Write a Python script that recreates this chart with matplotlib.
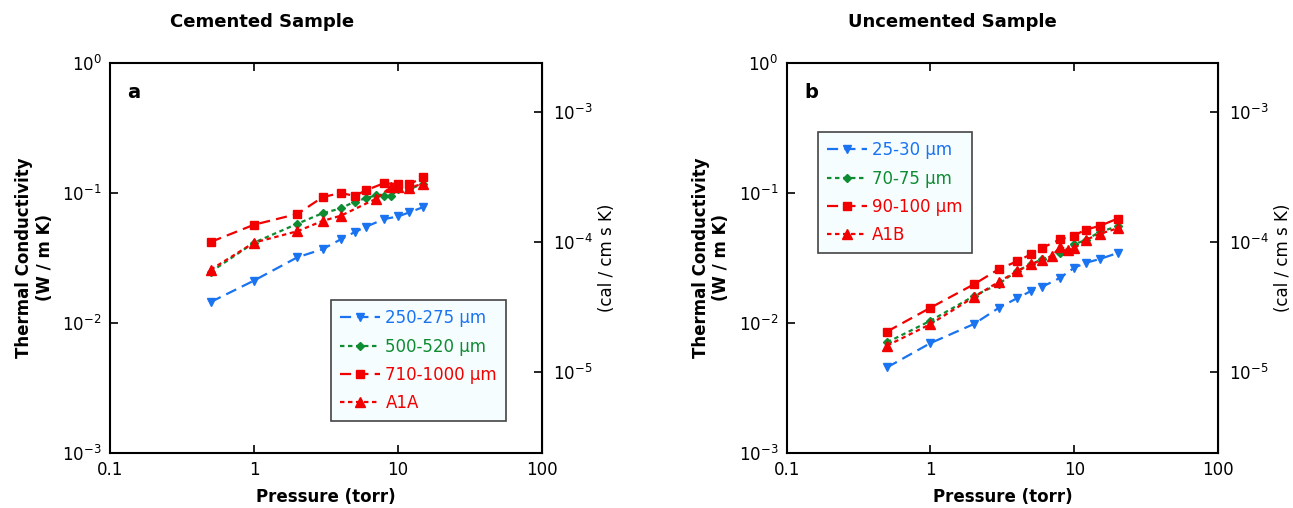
import numpy as np
import matplotlib
matplotlib.use("Agg")
import matplotlib.pyplot as plt
from matplotlib.ticker import LogLocator, NullLocator, FixedLocator

# Panel a - cemented sample
p_a = [0.5, 1, 2, 3, 4, 5, 6, 8, 10, 12, 15]
k_a_250 = [0.0145, 0.0212, 0.032, 0.037, 0.044, 0.050, 0.055, 0.063, 0.066, 0.071, 0.078]
k_a_710 = [0.042, 0.057, 0.069, 0.093, 0.100, 0.095, 0.105, 0.119, 0.117, 0.117, 0.132]
p_a_500 = [0.5, 1, 2, 3, 4, 5, 6, 7, 8, 9, 10, 12, 15]
k_a_500 = [0.0247, 0.0415, 0.058, 0.070, 0.076, 0.086, 0.091, 0.096, 0.095, 0.095, 0.108, 0.107, 0.118]
p_a_a1a = [0.5, 1, 2, 3, 4, 7, 9, 10, 12, 15]
k_a_a1a = [0.0257, 0.0415, 0.0508, 0.061, 0.0668, 0.090, 0.112, 0.112, 0.110, 0.118]

# Panel b - uncemented sample
p_b = [0.5, 1, 2, 3, 4, 5, 6, 8, 10, 12, 15, 20]
k_b_25 = [0.00456, 0.0070, 0.0098, 0.0131, 0.0155, 0.0176, 0.019, 0.0223, 0.0266, 0.029, 0.031, 0.0345]
k_b_70 = [0.0071, 0.0104, 0.0161, 0.020, 0.0252, 0.0283, 0.031, 0.0344, 0.0403, 0.0435, 0.050, 0.0555]
k_b_90 = [0.0086, 0.0131, 0.0198, 0.026, 0.0298, 0.0338, 0.0379, 0.044, 0.047, 0.0523, 0.0557, 0.0635]
p_b_a1b = [0.5, 1, 2, 3, 4, 5, 6, 7, 8, 9, 10, 12, 15, 20]
k_b_a1b = [0.0067, 0.0098, 0.0158, 0.0208, 0.025, 0.0283, 0.0305, 0.0328, 0.0386, 0.0364, 0.0375, 0.0435, 0.0484, 0.0535]

labels_a = ["250-275 µm", "500-520 µm", "710-1000 µm", "A1A"]
labels_b = ["25-30 µm", "70-75 µm", "90-100 µm", "A1B"]

BLUE = "#1a73f0"
GREEN = "#0e8c32"
RED = "#f20000"
LONG = (5, 2.8)
SHORT = (2, 1.6)

W_PER_CAL = 418.4  # W/m K per cal/cm s K

fig = plt.figure(figsize=(12.93, 5.08), dpi=100)
plt.rcParams['font.family'] = ['DejaVu Sans']


def draw_panel(ax, series, letter, leg_anchor):
    styles = [(BLUE, "v", 6, LONG), (GREEN, "D", 4, SHORT), (RED, "s", 6, LONG), (RED, "^", 6.5, SHORT)]
    for (x, y, lab), (c, m, ms, d) in zip(series, styles):
        ax.plot(x, y, color=c, marker=m, markersize=ms, lw=1.6, dashes=d, label=lab)
    ax.set_xscale("log")
    ax.set_yscale("log")
    ax.set_xlim(0.1, 100)
    ax.set_ylim(1e-3, 1)
    ax.xaxis.set_major_locator(FixedLocator([0.1, 1, 10, 100]))
    ax.xaxis.set_minor_locator(NullLocator())
    ax.yaxis.set_major_locator(LogLocator(base=10, numticks=10))
    ax.yaxis.set_minor_locator(NullLocator())
    ax.set_xticklabels(["0.1", "1", "10", "100"])
    ax.tick_params(direction="in", length=6, width=1.2, labelsize=12, top=True, pad=6)
    for s in ax.spines.values():
        s.set_linewidth(1.5)
    ax.set_xlabel("Pressure (torr)", fontsize=12, fontweight="bold", labelpad=6)
    ax.set_ylabel("Thermal Conductivity\n(W / m K)", fontsize=12, fontweight="bold", labelpad=6)
    ax.text(0.04, 0.925, letter, transform=ax.transAxes, fontsize=14, fontweight="bold", va="center")

    sec = ax.secondary_yaxis("right", functions=(lambda v: v / W_PER_CAL, lambda v: v * W_PER_CAL))
    sec.set_yscale("log")
    sec.yaxis.set_major_locator(FixedLocator([1e-5, 1e-4, 1e-3]))
    sec.yaxis.set_minor_locator(NullLocator())
    sec.tick_params(direction="in", length=6, width=1.2, labelsize=12, pad=8)
    sec.set_ylabel("(cal / cm s K)", fontsize=12, labelpad=4)

    leg = ax.legend(loc="upper left", bbox_to_anchor=leg_anchor, borderaxespad=0, fontsize=12, frameon=True,
                    fancybox=False, framealpha=1, edgecolor="#444444", facecolor="#f6fdff",
                    handlelength=2.4, handletextpad=0.3, labelspacing=0.62, borderpad=0.55)
    leg.get_frame().set_linewidth(1.2)
    for t, c in zip(leg.get_texts(), [BLUE, GREEN, RED, RED]):
        t.set_color(c)


ax_a = fig.add_axes([0.0851, 0.1083, 0.3341, 0.7677])
draw_panel(ax_a, [(p_a, k_a_250, labels_a[0]), (p_a_500, k_a_500, labels_a[1]),
                  (p_a, k_a_710, labels_a[2]), (p_a_a1a, k_a_a1a, labels_a[3])],
           "a", (0.512, 0.392))

ax_b = fig.add_axes([0.6084, 0.1083, 0.3336, 0.7677])
draw_panel(ax_b, [(p_b, k_b_25, labels_b[0]), (p_b, k_b_70, labels_b[1]),
                  (p_b, k_b_90, labels_b[2]), (p_b_a1b, k_b_a1b, labels_b[3])],
           "b", (0.073, 0.823))

fig.text(262 / 1293, 1 - 22 / 508, "Cemented Sample", ha="center", va="center", fontsize=13, fontweight="bold")
fig.text(952 / 1293, 1 - 22 / 508, "Uncemented Sample", ha="center", va="center", fontsize=13, fontweight="bold")

fig.savefig("out.png", dpi=100)
